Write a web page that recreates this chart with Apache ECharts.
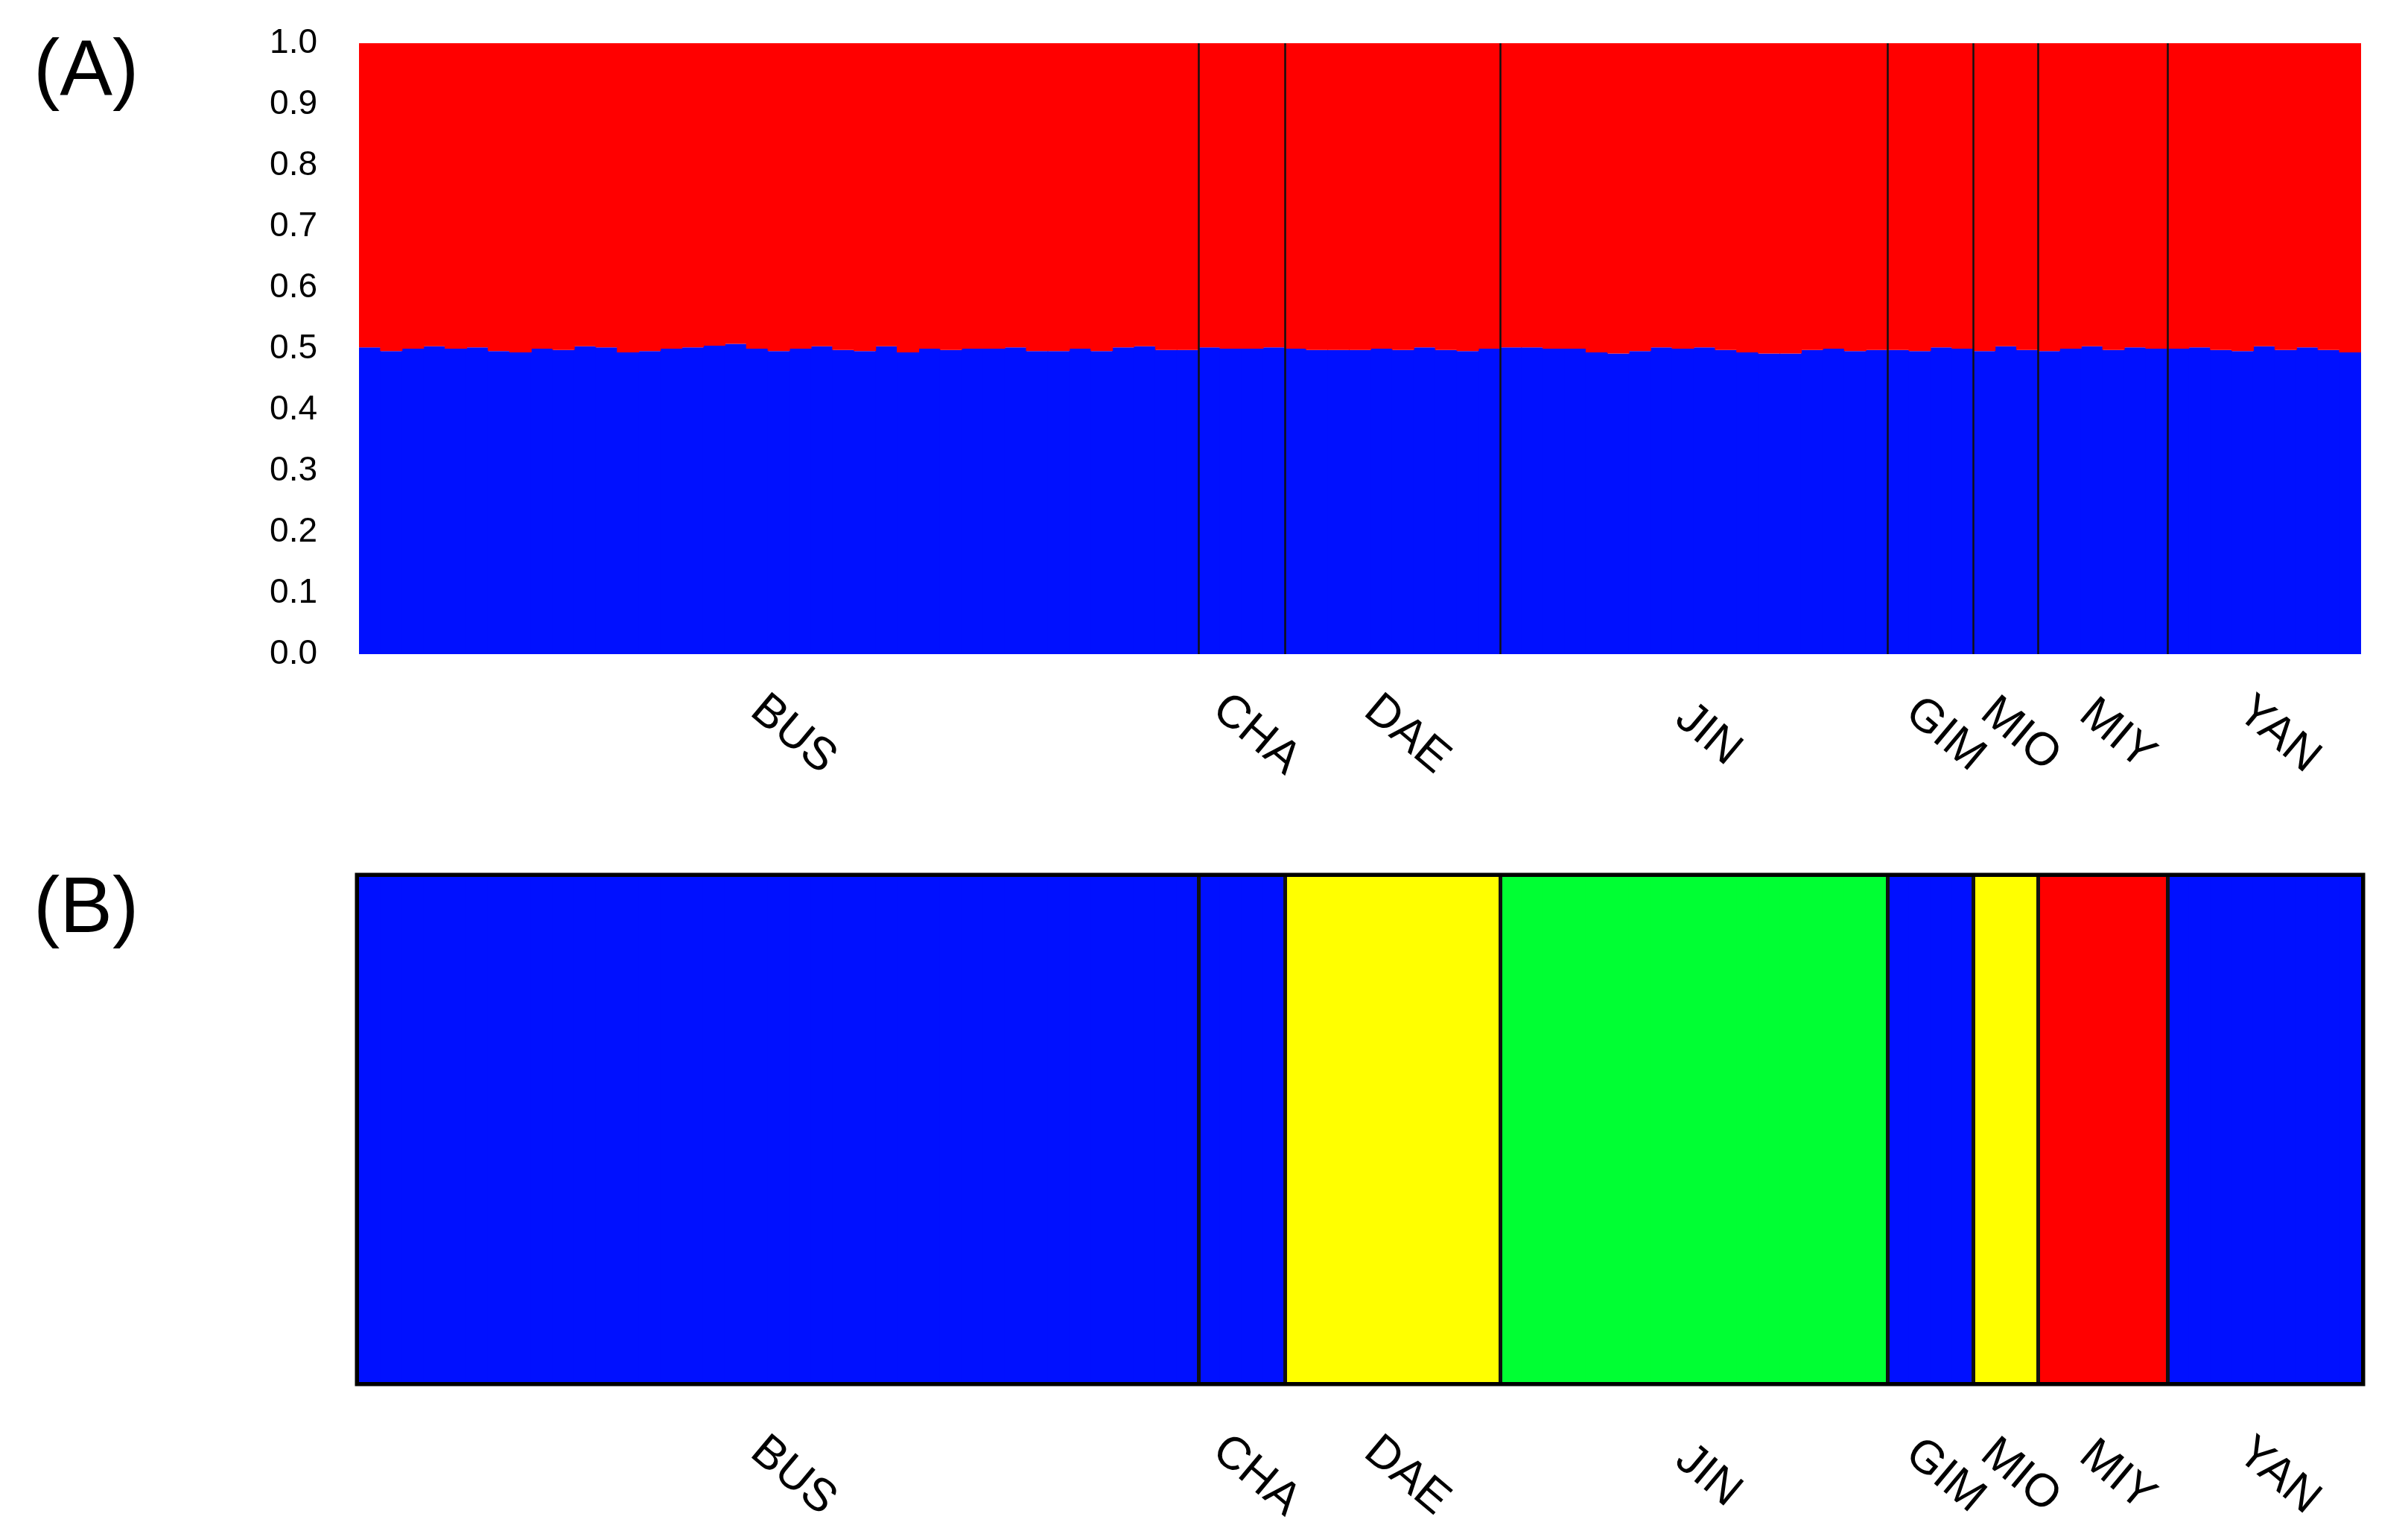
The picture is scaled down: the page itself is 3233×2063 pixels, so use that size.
<!DOCTYPE html>
<html>
<head>
<meta charset="utf-8">
<title>Population structure</title>
<script src="https://cdn.jsdelivr.net/npm/echarts@6/dist/echarts.min.js"></script>
<style>
  html, body { margin: 0; padding: 0; background: #fff; }
  #chart { width: 3233px; height: 2063px; }
</style>
</head>
<body>
<div id="chart"></div>
<script>
// populations, in plot order
const popNames = ["BUS", "CHA", "DAE", "JIN", "GIM", "MIO", "MIY", "YAN"];
const popSizes = [39, 4, 10, 18, 4, 3, 6, 9];

// (A) K=2 membership in the blue cluster, one value per individual
const busQ = [0.502, 0.496, 0.500, 0.504, 0.500, 0.502, 0.496, 0.494, 0.500, 0.498,
              0.504, 0.502, 0.494, 0.496, 0.500, 0.502, 0.505, 0.508, 0.500, 0.496,
              0.500, 0.504, 0.498, 0.496, 0.504, 0.494, 0.500, 0.498, 0.500, 0.500,
              0.502, 0.496, 0.496, 0.500, 0.496, 0.502, 0.504, 0.498, 0.498];
const chaQ = [0.502, 0.500, 0.500, 0.502];
const daeQ = [0.500, 0.498, 0.498, 0.498, 0.500, 0.498, 0.502, 0.498, 0.496, 0.500];
const jinQ = [0.502, 0.502, 0.500, 0.500, 0.494, 0.492, 0.496, 0.502, 0.500, 0.502,
              0.498, 0.494, 0.492, 0.492, 0.498, 0.500, 0.496, 0.498];
const gimQ = [0.498, 0.496, 0.502, 0.500];
const mioQ = [0.496, 0.504, 0.498];
const miyQ = [0.496, 0.500, 0.504, 0.498, 0.502, 0.500];
const yanQ = [0.500, 0.502, 0.498, 0.496, 0.504, 0.498, 0.502, 0.498, 0.494];

// (B) cluster each population is assigned to
const popCluster = ["blue", "blue", "yellow", "green", "blue", "yellow", "red", "blue"];
const clustersB = ["blue", "yellow", "green", "red"];

const colors = { blue: "#0010ff", red: "#ff0000", yellow: "#ffff00", green: "#00ff33" };
const font = "'Liberation Sans', Arial, sans-serif";

const plotWidth = 2688;

const blueA = [].concat(busQ, chaQ, daeQ, jinQ, gimQ, mioQ, miyQ, yanQ);
const redA = blueA.map((v) => +(1 - v).toFixed(3));
const total = blueA.length;
const individuals = blueA.map((_, i) => String(i + 1));
// a bit wider than the band so neighbouring bars overlap and leave no seams
const barW = Math.ceil(plotWidth / total) + 1;

// population of each individual, bounds and label centres
const popOf = [];
const bounds = [];
const centers = [];
let start = 0;
popSizes.forEach((n, p) => {
  for (let i = 0; i < n; i++) popOf.push(p);
  centers.push(start + n / 2);
  start += n;
  if (start < total) bounds.push(start);
});

function barSeries(name, stack, axis, data) {
  return {
    name: name,
    type: "bar",
    stack: stack,
    xAxisIndex: axis,
    yAxisIndex: axis,
    barWidth: barW,
    itemStyle: { color: colors[name] },
    data: data,
  };
}

const seriesB = clustersB.map((c) =>
  barSeries(c, "b", 1, popOf.map((p) => (popCluster[p] === c ? 1 : "-")))
);

function popLabel(v) {
  const i = centers.findIndex((c) => Math.abs(c - v) < 0.01);
  return i >= 0 ? popNames[i] : "";
}

function labelAxis(gridIndex, sepWidth, sepLength, margin) {
  return {
    type: "value",
    gridIndex: gridIndex,
    min: 0,
    max: total,
    position: "bottom",
    z: 5,
    axisLine: { show: false },
    splitLine: { show: false },
    axisTick: {
      show: true,
      customValues: bounds,
      inside: true,
      length: sepLength,
      lineStyle: { color: "#111", width: sepWidth },
    },
    axisLabel: {
      customValues: centers,
      formatter: popLabel,
      rotate: -40,
      align: "center",
      verticalAlign: "middle",
      padding: [0, 0, 0, 50],
      margin: margin,
      fontSize: 62,
      color: "#000",
      fontFamily: font,
    },
  };
}

const chart = echarts.init(document.getElementById("chart"));

const option = {
  backgroundColor: "#fff",
  animation: false,
  title: [
    { text: "(A)", left: 45, top: 45, padding: 0,
      textStyle: { fontSize: 106, fontWeight: "normal", color: "#000", fontFamily: font } },
    { text: "(B)", left: 45, top: 1169, padding: 0,
      textStyle: { fontSize: 106, fontWeight: "normal", color: "#000", fontFamily: font } },
  ],
  grid: [
    { left: 482, top: 58, width: plotWidth, height: 820 },
    { left: 482, top: 1177, width: plotWidth, height: 678, show: true,
      borderColor: "#000", borderWidth: 11, backgroundColor: "#fff" },
  ],
  xAxis: [
    { type: "category", gridIndex: 0, data: individuals, show: false },
    { type: "category", gridIndex: 1, data: individuals, show: false },
    labelAxis(0, 2.5, 820, 92),
    labelAxis(1, 5, 678, 110),
  ],
  yAxis: [
    {
      type: "value",
      gridIndex: 0,
      min: 0,
      max: 1,
      interval: 0.1,
      axisLine: { show: false },
      axisTick: { show: false },
      splitLine: { show: false },
      axisLabel: {
        formatter: (v) => v.toFixed(1),
        fontSize: 46,
        color: "#000",
        margin: 56,
        fontFamily: font,
      },
    },
    { type: "value", gridIndex: 1, min: 0, max: 1, show: false },
  ],
  series: [
    barSeries("blue", "a", 0, blueA),
    barSeries("red", "a", 0, redA),
    ...seriesB,
  ],
};

chart.setOption(option);
</script>
</body>
</html>
